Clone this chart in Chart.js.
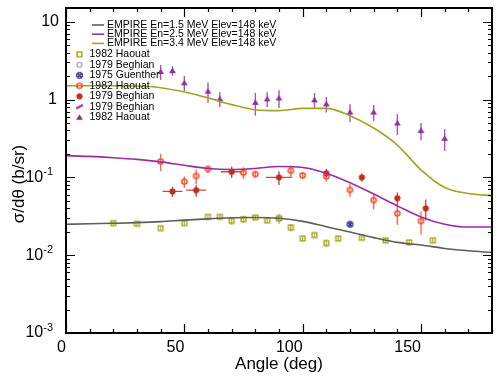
<!DOCTYPE html>
<html>
<head>
<meta charset="utf-8">
<script src="https://cdn.jsdelivr.net/npm/chart.js@4.4.1/dist/chart.umd.min.js"></script>
<style>
  html, body { margin: 0; padding: 0; background: #fff; }
</style>
</head>
<body>
<canvas id="c" width="497" height="379"></canvas>
<script>
// EMPIRE curves, sampled every 10 deg
const curveAngles = [0, 10, 20, 30, 40, 50, 60, 70, 80, 90, 100, 110, 120, 130, 140, 150, 160, 170, 180];
const empire15 = [0.025, 0.0253, 0.0257, 0.0262, 0.027, 0.0282, 0.0293, 0.0302, 0.0305, 0.0298, 0.0272, 0.0232, 0.0198, 0.0168, 0.0146, 0.0135, 0.0122, 0.0114, 0.0108];
const empire25 = [0.19, 0.186, 0.179, 0.17, 0.158, 0.143, 0.13, 0.126, 0.13, 0.138, 0.134, 0.113, 0.085, 0.061, 0.043, 0.031, 0.025, 0.023, 0.023];
const empire34 = [1.5, 1.5, 1.5, 1.49, 1.42, 1.25, 1.05, 0.86, 0.74, 0.72, 0.77, 0.77, 0.62, 0.43, 0.26, 0.125, 0.074, 0.062, 0.058];

// measurements (angle, value, error)
const haouatLowX   = [20, 30, 40, 50, 60, 65, 70, 75, 80, 85, 90, 95, 100, 105, 110, 115, 125, 135, 145, 155];
const haouatLowY   = [0.0258, 0.0253, 0.0222, 0.0258, 0.0311, 0.0311, 0.0276, 0.029, 0.0305, 0.028, 0.0298, 0.0227, 0.0164, 0.0181, 0.0143, 0.0164, 0.0167, 0.0155, 0.0146, 0.0155];
const haouatLowErr = [0.0015, 0.0015, 0.0013, 0.0015, 0.0018, 0.0018, 0.003, 0.003, 0.0018, 0.0016, 0.0017, 0.0025, 0.001, 0.0011, 0.0016, 0.0012, 0.001, 0.0011, 0.0009, 0.001];

const beghianGrayX = [90];
const beghianGrayY = [0.0297];
const beghianGrayErr = [0.0045];

const guentherX = [120];
const guentherY = [0.025];
const guentherErr = [0.0018];

const haouatMidX   = [40, 50, 55, 60, 75, 80, 95, 100, 110, 120, 130, 140, 150];
const haouatMidY   = [0.16, 0.088, 0.104, 0.128, 0.115, 0.11, 0.122, 0.106, 0.103, 0.069, 0.051, 0.0345, 0.0274];
const haouatMidErr = [0.04, 0.015, 0.022, 0.014, 0.02, 0.01, 0.02, 0.01, 0.015, 0.013, 0.012, 0.01, 0.009];

const beghianMidX    = [45, 55, 70, 90, 110, 125, 140, 152];
const beghianMidY    = [0.066, 0.0685, 0.118, 0.1, 0.113, 0.1, 0.054, 0.04];
const beghianMidErr  = [0.01, 0.012, 0.02, 0.02, 0.015, 0.012, 0.01, 0.012];
const beghianMidXErr = [4.2, 4.2, 4.6, 5.6, 0, 0, 0, 0];

const beghianHighX = [];
const beghianHighY = [];

const haouatHighX   = [40, 45, 50, 60, 65, 80, 85, 90, 105, 110, 120, 130, 140, 150, 160];
const haouatHighY   = [2.29, 2.35, 1.64, 1.28, 1.02, 0.92, 1.02, 1.05, 0.99, 0.88, 0.69, 0.69, 0.5, 0.4, 0.318];
const haouatHighErr = [0.5, 0.33, 0.37, 0.37, 0.22, 0.3, 0.22, 0.27, 0.22, 0.2, 0.18, 0.16, 0.15, 0.1, 0.1];

const xMajor = [0, 50, 100, 150];
const yDecades = [-3, -2, -1, 0, 1];

const FONT = "'Liberation Sans', Arial, Helvetica, sans-serif";
Chart.defaults.font.family = FONT;
Chart.defaults.color = '#000';

const GRAY = '#5e5e5e', PURPLE = '#9a2aa8', OLIVE = '#a3a31e';

function pts(xs, ys) { return xs.map((x, i) => ({ x, y: ys[i] })); }

function marker(draw) {
  const c = document.createElement('canvas');
  c.width = 9; c.height = 9;
  const g = c.getContext('2d');
  draw(g, 4.5);
  return c;
}
const mkSquare = marker((g, m) => { g.strokeStyle = '#a6a617'; g.lineWidth = 1.4; g.strokeRect(m - 2.4, m - 2.4, 4.8, 4.8); });
const mkGrayCircle = marker((g, m) => { g.strokeStyle = '#a8a8a8'; g.lineWidth = 1.4; g.beginPath(); g.arc(m, m, 2.4, 0, 7); g.stroke(); });
const mkStar = marker((g, m) => {
  g.strokeStyle = '#2e2e98'; g.lineWidth = 1.3;
  g.beginPath(); g.arc(m, m, 2.9, 0, 7); g.stroke();
  g.beginPath(); g.moveTo(m - 2, m - 2); g.lineTo(m + 2, m + 2); g.moveTo(m + 2, m - 2); g.lineTo(m - 2, m + 2); g.stroke();
});
const mkRedOpen = marker((g, m) => { g.strokeStyle = '#ff3f1f'; g.lineWidth = 1.4; g.beginPath(); g.arc(m, m, 2.6, 0, 7); g.stroke(); });
const mkRedFull = marker((g, m) => { g.fillStyle = '#c42a1f'; g.beginPath(); g.arc(m, m, 3.1, 0, 7); g.fill(); });
const mkSlash = marker((g, m) => { g.strokeStyle = '#9a36ac'; g.lineWidth = 2.4; g.beginPath(); g.moveTo(m - 3.4, m + 1.8); g.lineTo(m + 3.4, m - 1.8); g.stroke(); });
const mkTriangle = marker((g, m) => { g.fillStyle = '#8f2fa1'; g.beginPath(); g.moveTo(m, m - 3); g.lineTo(m + 3.4, m + 2.6); g.lineTo(m - 3.4, m + 2.6); g.closePath(); g.fill(); });

function curve(label, ys, color) {
  return { label, data: pts(curveAngles, ys), borderColor: color, borderWidth: 1.6, pointRadius: 0,
           cubicInterpolationMode: 'monotone', fill: false, isCurve: true };
}
function points(label, xs, ys, style, errColor, yErr, xErr) {
  return { label, data: pts(xs, ys), showLine: false, pointStyle: style, pointRadius: 4,
           errColor, yErr, xErr };
}

const datasets = [
  curve('EMPIRE En=1.5 MeV Elev=148 keV', empire15, GRAY),
  curve('EMPIRE En=2.5 MeV Elev=148 keV', empire25, PURPLE),
  curve('EMPIRE En=3.4 MeV Elev=148 keV', empire34, OLIVE),
  points('1982 Haouat', haouatLowX, haouatLowY, mkSquare, '#baba4a', haouatLowErr),
  points('1979 Beghian', beghianGrayX, beghianGrayY, mkGrayCircle, '#b4b4b4', beghianGrayErr),
  points('1975 Guenther', guentherX, guentherY, mkStar, '#5050ac', guentherErr),
  points('1982 Haouat', haouatMidX, haouatMidY, mkRedOpen, '#ff6a4c', haouatMidErr),
  points('1979 Beghian', beghianMidX, beghianMidY, mkRedFull, '#d04a40', beghianMidErr, beghianMidXErr),
  points('1979 Beghian', beghianHighX, beghianHighY, mkSlash, '#a656b6', []),
  points('1982 Haouat', haouatHighX, haouatHighY, mkTriangle, '#a656b6', haouatHighErr),
];

// error bars, drawn under the markers
const errorBars = {
  id: 'errorBars',
  beforeDatasetsDraw(chart) {
    const { ctx, chartArea: a, scales: { x, y } } = chart;
    ctx.save();
    ctx.beginPath(); ctx.rect(a.left, a.top, a.right - a.left, a.bottom - a.top); ctx.clip();
    ctx.lineWidth = 1.4;
    chart.data.datasets.forEach(ds => {
      if (!ds.yErr) return;
      ctx.strokeStyle = ds.errColor;
      ds.data.forEach((p, j) => {
        const px = x.getPixelForValue(p.x), py = y.getPixelForValue(p.y);
        const e = ds.yErr[j];
        ctx.beginPath();
        if (e) {
          ctx.moveTo(px, y.getPixelForValue(p.y + e));
          ctx.lineTo(px, y.getPixelForValue(Math.max(p.y - e, 1e-4)));
        }
        const xe = ds.xErr && ds.xErr[j];
        if (xe) {
          ctx.moveTo(x.getPixelForValue(p.x - xe), py);
          ctx.lineTo(x.getPixelForValue(p.x + xe), py);
        }
        ctx.stroke();
      });
    });
    ctx.restore();
  }
};

// frame, inward ticks on all sides, y labels and title
const frame = {
  id: 'frame',
  afterDraw(chart) {
    const { ctx, chartArea: a, scales: { x, y } } = chart;
    ctx.save();
    ctx.strokeStyle = '#000';
    ctx.lineWidth = 1.2;
    ctx.beginPath();
    for (let v = 0; v <= 180; v += 10) {
      const px = Math.round(x.getPixelForValue(v)) + 0.5;
      const len = v % 50 === 0 ? 9 : 4;
      ctx.moveTo(px, a.bottom); ctx.lineTo(px, a.bottom - len);
      ctx.moveTo(px, a.top); ctx.lineTo(px, a.top + len);
    }
    yDecades.forEach(k => {
      for (let m = 1; m <= 9; m++) {
        const v = m * Math.pow(10, k);
        if (v > 15) break;
        const py = Math.round(y.getPixelForValue(v)) + 0.5;
        const len = m === 1 ? 9 : 4;
        ctx.moveTo(a.left, py); ctx.lineTo(a.left + len, py);
        ctx.moveTo(a.right, py); ctx.lineTo(a.right - len, py);
      }
    });
    ctx.stroke();
    ctx.lineWidth = 2;
    ctx.strokeRect(a.left, a.top, a.right - a.left, a.bottom - a.top);

    ctx.fillStyle = '#000';
    ctx.textBaseline = 'middle';
    yDecades.forEach(k => {
      const py = y.getPixelForValue(Math.pow(10, k));
      if (k >= 0) {
        ctx.font = '16px ' + FONT; ctx.textAlign = 'right';
        ctx.fillText(k === 0 ? '1' : '10', k === 0 ? 57 : 59, py);
      } else {
        const sup = String(k);
        ctx.font = '11px ' + FONT; ctx.textAlign = 'right';
        const sw = ctx.measureText(sup).width;
        ctx.fillText(sup, 53, py - 5);
        ctx.font = '16px ' + FONT;
        ctx.fillText('10', 53 - sw, py);
      }
    });

    ctx.translate(19, 184);
    ctx.rotate(-Math.PI / 2);
    ctx.textAlign = 'center';
    ctx.font = '17px ' + FONT;
    ctx.fillText('σ/dθ (b/sr)', 0, 0);
    ctx.restore();
  }
};

// legend in the upper left corner of the frame
const cornerLegend = {
  id: 'cornerLegend',
  afterDraw(chart) {
    const ctx = chart.ctx;
    ctx.save();
    ctx.font = '10.5px ' + FONT;
    ctx.fillStyle = '#000';
    ctx.textBaseline = 'middle';
    ctx.textAlign = 'left';
    let row = 0;
    chart.data.datasets.forEach((ds, i) => {
      if (ds.isCurve) {
        const yy = 25 + i * 9.2;
        ctx.strokeStyle = ds.borderColor; ctx.lineWidth = 1.6;
        ctx.beginPath(); ctx.moveTo(92, yy); ctx.lineTo(104, yy); ctx.stroke();
        ctx.fillText(ds.label, 107, yy);
      } else {
        const yy = 54.3 + row * 10.5;
        row++;
        const img = ds.pointStyle;
        ctx.drawImage(img, 79.5 - img.width / 2, yy - img.height / 2);
        ctx.fillText(ds.label, 89.5, yy);
      }
    });
    ctx.restore();
  }
};

new Chart(document.getElementById('c'), {
  type: 'line',
  data: { datasets },
  plugins: [errorBars, frame, cornerLegend],
  options: {
    responsive: false,
    animation: false,
    devicePixelRatio: 1,
    layout: { padding: { left: 0, right: 5, top: 8, bottom: 0 } },
    plugins: { legend: { display: false }, tooltip: { enabled: false } },
    scales: {
      x: {
        type: 'linear', min: 0, max: 180,
        grid: { display: false, drawTicks: false },
        border: { display: false },
        ticks: { font: { size: 16 }, color: '#000', align: 'end', padding: 5, maxRotation: 0 },
        afterBuildTicks: s => { s.ticks = xMajor.map(v => ({ value: v })); },
        afterFit: s => { s.height = 46; },
        title: { display: true, text: 'Angle (deg)', font: { size: 17 }, color: '#000', padding: { top: 0, bottom: 4 } },
      },
      y: {
        type: 'logarithmic', min: 0.001, max: 15,
        grid: { display: false, drawTicks: false },
        border: { display: false },
        ticks: { display: false },
        afterFit: s => { s.width = 66; },
      },
    },
  },
});
</script>
</body>
</html>
